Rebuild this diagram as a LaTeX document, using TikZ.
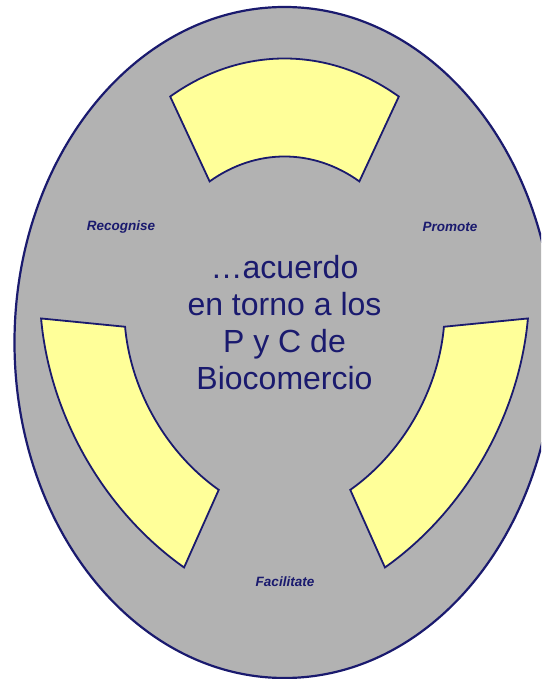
\documentclass[tikz,border=0pt]{standalone}
\usepackage{fontspec}
\setmainfont{Liberation Sans}
\usepackage{tikz}
\usetikzlibrary{positioning}
\definecolor{navy}{RGB}{26,26,110}
\definecolor{panel}{RGB}{178,178,178}
\definecolor{pale}{RGB}{255,255,153}

\begin{document}
\begin{tikzpicture}[x=1pt, y=1pt,
  band/.style={fill=pale, draw=navy, line width=1.8pt},
  tag/.style={text=navy, font=\fontsize{13.5}{15}\selectfont\bfseries\itshape}]
\useasboundingbox (-284.5,-336.5) rectangle (256.5,342.5);
\clip (-284.5,-336.5) rectangle (256.5,342.5);
\coordinate (o) at (0,0);
% grey disc
\draw[fill=panel, draw=navy, line width=2.2pt] (o) ellipse [x radius=270, y radius=335.5];
% band top
\begin{scope}[cm={0.805,0,0,1,(o)}]
\draw[band] (60:284) arc[start angle=60, end angle=120, radius=284]
  -- (120:186) arc[start angle=120, end angle=60, radius=186] -- cycle;
\end{scope}
% band left
\begin{scope}[cm={-0.5035,0.8768,-0.699,-0.4085,(o)}]
\draw[band] (60:284) arc[start angle=60, end angle=120, radius=284]
  -- (120:186) arc[start angle=120, end angle=60, radius=186] -- cycle;
\end{scope}
% band right
\begin{scope}[cm={0.5035,0.8768,0.699,-0.4085,(o)}]
\draw[band] (60:284) arc[start angle=60, end angle=120, radius=284]
  -- (120:186) arc[start angle=120, end angle=60, radius=186] -- cycle;
\end{scope}
% labels
\node[tag] (recognise) at (-163.5,115.5) {Recognise};
\node[tag] (promote) at (165.5,115.5) {Promote};
\node[tag] (facilitate) at (0.5,-239.5) {Facilitate};
\node[text=navy, align=center, font=\fontsize{32}{37}\selectfont] (core) at (0,20)
  {…acuerdo\\en torno a los\\P y C de\\Biocomercio};
\end{tikzpicture}
\end{document}
